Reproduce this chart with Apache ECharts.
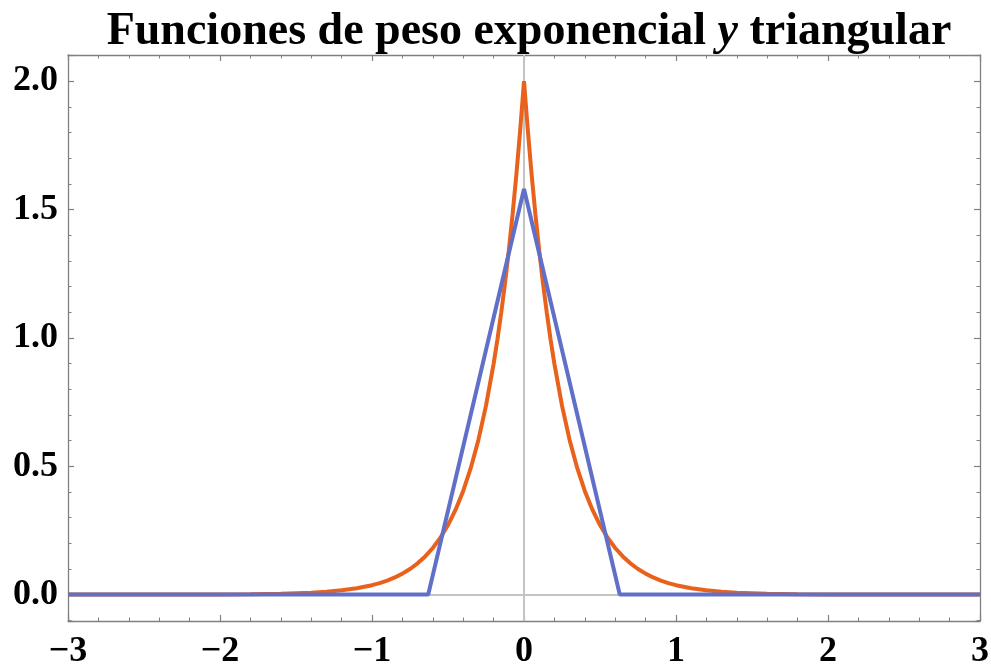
<!DOCTYPE html>
<html>
<head>
<meta charset="utf-8">
<script src="https://cdn.jsdelivr.net/npm/echarts@6/dist/echarts.min.js"></script>
<style>
html,body{margin:0;padding:0;background:#fff;}
#chart{width:991px;height:667px;}
</style>
</head>
<body>
<div id="chart"></div>
<script>
// Exponential weight curve (orange)
const expX = [-3, -2.5, -2, -1.8, -1.6, -1.4, -1.3, -1.2, -1.1, -1.0, -0.95, -0.9, -0.85, -0.8, -0.75, -0.7, -0.65, -0.6, -0.55, -0.5, -0.45, -0.4, -0.35, -0.3, -0.25, -0.2, -0.175, -0.15, -0.125, -0.1, -0.075, -0.05, -0.025, 0,
              0.025, 0.05, 0.075, 0.1, 0.125, 0.15, 0.175, 0.2, 0.25, 0.3, 0.35, 0.4, 0.45, 0.5, 0.55, 0.6, 0.65, 0.7, 0.75, 0.8, 0.85, 0.9, 0.95, 1.0, 1.1, 1.2, 1.3, 1.4, 1.6, 1.8, 2, 2.5, 3];
const expY = [0.0000, 0.0001, 0.0007, 0.0015, 0.0033, 0.0074, 0.0110, 0.0165, 0.0246, 0.0366, 0.0447, 0.0546, 0.0667, 0.0815, 0.0996, 0.1216, 0.1485, 0.1814, 0.2216, 0.2707, 0.3306, 0.4038, 0.4932, 0.6024, 0.7358, 0.8987, 0.9932, 1.0976, 1.2131, 1.3406, 1.4816, 1.6375, 1.8097, 2.0,
              1.8097, 1.6375, 1.4816, 1.3406, 1.2131, 1.0976, 0.9932, 0.8987, 0.7358, 0.6024, 0.4932, 0.4038, 0.3306, 0.2707, 0.2216, 0.1814, 0.1485, 0.1216, 0.0996, 0.0815, 0.0667, 0.0546, 0.0447, 0.0366, 0.0246, 0.0165, 0.0110, 0.0074, 0.0033, 0.0015, 0.0007, 0.0001, 0.0000];
// Triangular weight (blue)
const triX = [-3, -0.63, 0, 0.63, 3];
const triY = [0, 0, 1.58, 0, 0];
// Axis settings
const xMin = -3, xMax = 3;
const yMin = -0.103, yMax = 2.102;

const titleText = '{b|Funciones de peso exponencial }{i|y}{b| triangular}';

const serif = '"Liberation Serif", "DejaVu Serif", serif';
const frameColor = '#808080';

function pairs(xs, ys) { return xs.map((x, i) => [x, ys[i]]); }

const fmtX = v => (v < 0 ? '\u2212' + Math.abs(v) : String(v));
const fmtY = v => v.toFixed(1);

function axisCommon(showLabels, fmt, minorSplit, margin) {
  return {
    axisLine: { show: true, onZero: false, lineStyle: { color: frameColor, width: 1.3 } },
    axisTick: { show: true, inside: true, length: 6, lineStyle: { color: frameColor, width: 1.2 } },
    minorTick: { show: true, splitNumber: minorSplit, length: 3.5, lineStyle: { color: frameColor, width: 1 } },
    splitLine: { show: false },
    minorSplitLine: { show: false },
    axisLabel: {
      show: showLabels,
      formatter: fmt,
      margin: margin,
      showMinLabel: false,
      showMaxLabel: showLabels && fmt === fmtX ? true : false,
      hideOverlap: false,
      color: '#000',
      fontFamily: serif,
      fontWeight: 'bold',
      fontSize: 36
    }
  };
}

const chart = echarts.init(document.getElementById('chart'), null, { renderer: 'canvas' });
const xBottom = Object.assign({ type: 'value', position: 'bottom', min: xMin, max: xMax, interval: 1 }, axisCommon(true, fmtX, 5, 13));
xBottom.axisLabel.showMinLabel = true;
const option = {
  animation: false,
  backgroundColor: '#fff',
  title: {
    text: titleText,
    left: 524,
    textAlign: 'center',
    top: 4,
    textStyle: {
      rich: {
        b: { fontFamily: serif, fontWeight: 'bold', fontSize: 46, color: '#000' },
        i: { fontFamily: serif, fontWeight: 'bold', fontStyle: 'italic', fontSize: 46, color: '#000' }
      }
    }
  },
  grid: { left: 68, right: 11, top: 55, bottom: 46, containLabel: false, outerBoundsMode: 'none' },
  xAxis: [
    xBottom,
    Object.assign({ type: 'value', position: 'top', min: xMin, max: xMax, interval: 1 }, axisCommon(false, fmtX, 5, 8))
  ],
  yAxis: [
    Object.assign({ type: 'value', position: 'left', min: yMin, max: yMax }, axisCommon(true, fmtY, 5, 10)),
    Object.assign({ type: 'value', position: 'right', min: yMin, max: yMax }, axisCommon(false, fmtY, 5, 8))
  ],
  series: [
    {
      type: 'line', data: [], xAxisIndex: 0, yAxisIndex: 0, z: 1, silent: true,
      markLine: {
        silent: true, symbol: 'none', animation: false, z: 1,
        label: { show: false },
        lineStyle: { color: '#c4c4c4', width: 2, type: 'solid' },
        data: [{ xAxis: 0 }, { yAxis: 0 }]
      }
    },
    {
      name: 'exponencial', type: 'line', data: pairs(expX, expY), xAxisIndex: 0, yAxisIndex: 0,
      showSymbol: false, smooth: false, z: 10,
      lineStyle: { color: '#e8621c', width: 4 }
    },
    {
      name: 'triangular', type: 'line', data: pairs(triX, triY), xAxisIndex: 0, yAxisIndex: 0,
      showSymbol: false, smooth: false, z: 11,
      lineStyle: { color: '#6070c8', width: 4 }
    }
  ]
};
chart.setOption(option);
</script>
</body>
</html>
